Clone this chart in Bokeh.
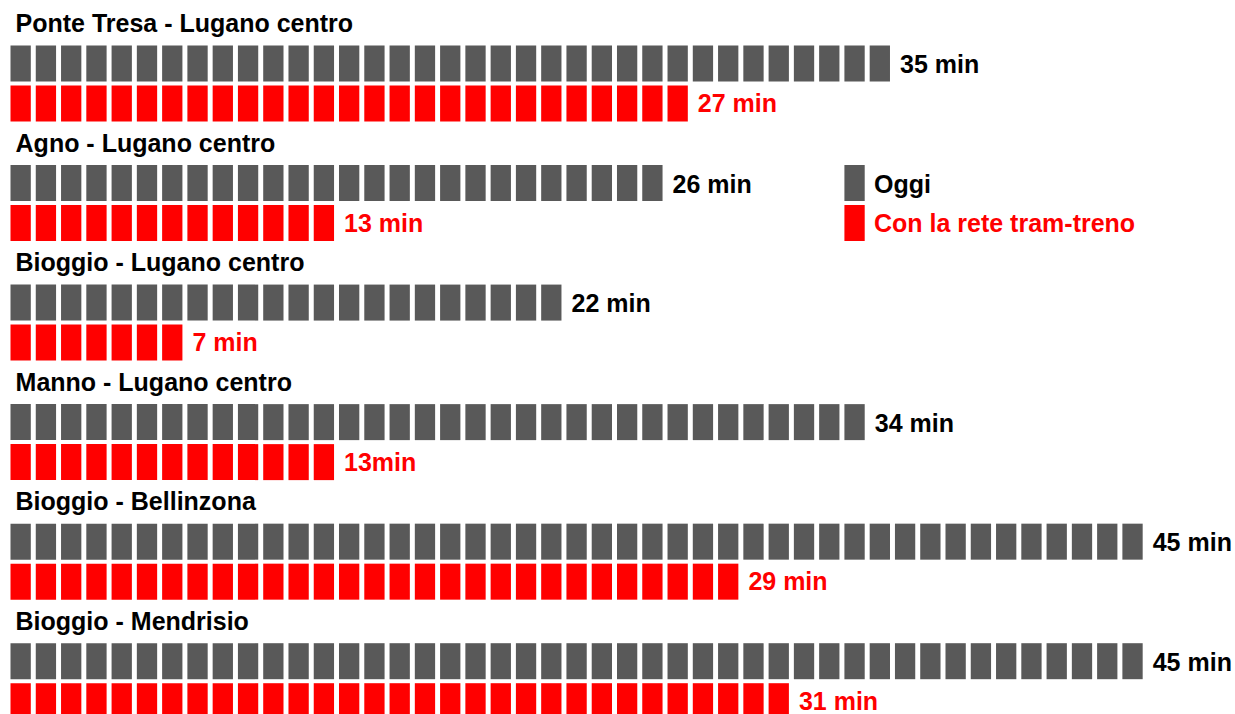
from bokeh.plotting import figure
from bokeh.models import Range1d
from bokeh.core.properties import value
from bokeh.embed import file_html
from bokeh.resources import INLINE

# ---- data ----
routes = ["Ponte Tresa - Lugano centro", "Agno - Lugano centro", "Bioggio - Lugano centro",
          "Manno - Lugano centro", "Bioggio - Bellinzona", "Bioggio - Mendrisio"]
oggi = [35, 26, 22, 34, 45, 45]
tram = [27, 13, 7, 13, 29, 31]
oggi_labels = ["35 min", "26 min", "22 min", "34 min", "45 min", "45 min"]
tram_labels = ["27 min", "13 min", "7 min", "13min", "29 min", "31 min"]
legend_labels = ["Oggi", "Con la rete tram-treno"]

GRAY = "#595959"
RED = "#ff0000"

# ---- geometry (pixel based scale) ----
W, H = 1235, 714
X0, PITCH = 10.0, 25.27
ROW0, ROWP = 45.0, 119.54
BW = 20.3 / PITCH
SHIFT = 8.0  # baseline correction in px
def py(px):
    return px / ROWP

p = figure(width=W, height=H, output_backend="svg", toolbar_location=None,
           x_range=Range1d(-X0 / PITCH, (W - X0) / PITCH),
           y_range=Range1d((H - ROW0) / ROWP, -ROW0 / ROWP),
           x_axis_location=None, y_axis_location=None, min_border=0)
p.grid.visible = False
p.outline_line_color = None
p.background_fill_color = "white"
p.border_fill_color = "white"

gl, gr, gt, gb = [], [], [], []
rl, rr, rt, rb = [], [], [], []
for r, (a, b) in enumerate(zip(oggi, tram)):
    for k in range(a):
        gl.append(k); gr.append(k + BW); gt.append(r); gb.append(r + py(36))
    for k in range(b):
        rl.append(k); rr.append(k + BW); rt.append(r + py(40)); rb.append(r + py(76))

p.quad(left=gl, right=gr, top=gt, bottom=gb, fill_color=GRAY, line_color=None)
p.quad(left=rl, right=rr, top=rt, bottom=rb, fill_color=RED, line_color=None)

FONT = value("Liberation Sans")
FS = "25px"
rows = list(range(len(routes)))

p.text(x=[0.2] * len(routes), y=[r - py(14.3 + SHIFT) for r in rows], text=routes,
       text_font=FONT, text_font_size=FS, text_font_style="bold", text_color="black",
       text_baseline="alphabetic", text_align="left")
p.text(x=[n + 0.2 for n in oggi], y=[r + py(26.7 - SHIFT) for r in rows], text=oggi_labels,
       text_font=FONT, text_font_size=FS, text_font_style="bold", text_color="black",
       text_baseline="alphabetic", text_align="left")
p.text(x=[n + 0.2 for n in tram], y=[r + py(65.6 - SHIFT) for r in rows], text=tram_labels,
       text_font=FONT, text_font_size=FS, text_font_style="bold", text_color=RED,
       text_baseline="alphabetic", text_align="left")

# legend (placed at row 1)
LX = 33
p.quad(left=[LX, LX], right=[LX + BW, LX + BW], top=[1, 1 + py(40)],
       bottom=[1 + py(36), 1 + py(76)], fill_color=[GRAY, RED], line_color=None)
p.text(x=[LX + 1.17, LX + 1.17], y=[1 + py(26.7 - SHIFT), 1 + py(65.6 - SHIFT)], text=legend_labels,
       text_font=FONT, text_font_size=FS, text_font_style="bold", text_color=["black", RED],
       text_baseline="alphabetic", text_align="left")

open("out.html", "w").write(file_html(p, INLINE))
